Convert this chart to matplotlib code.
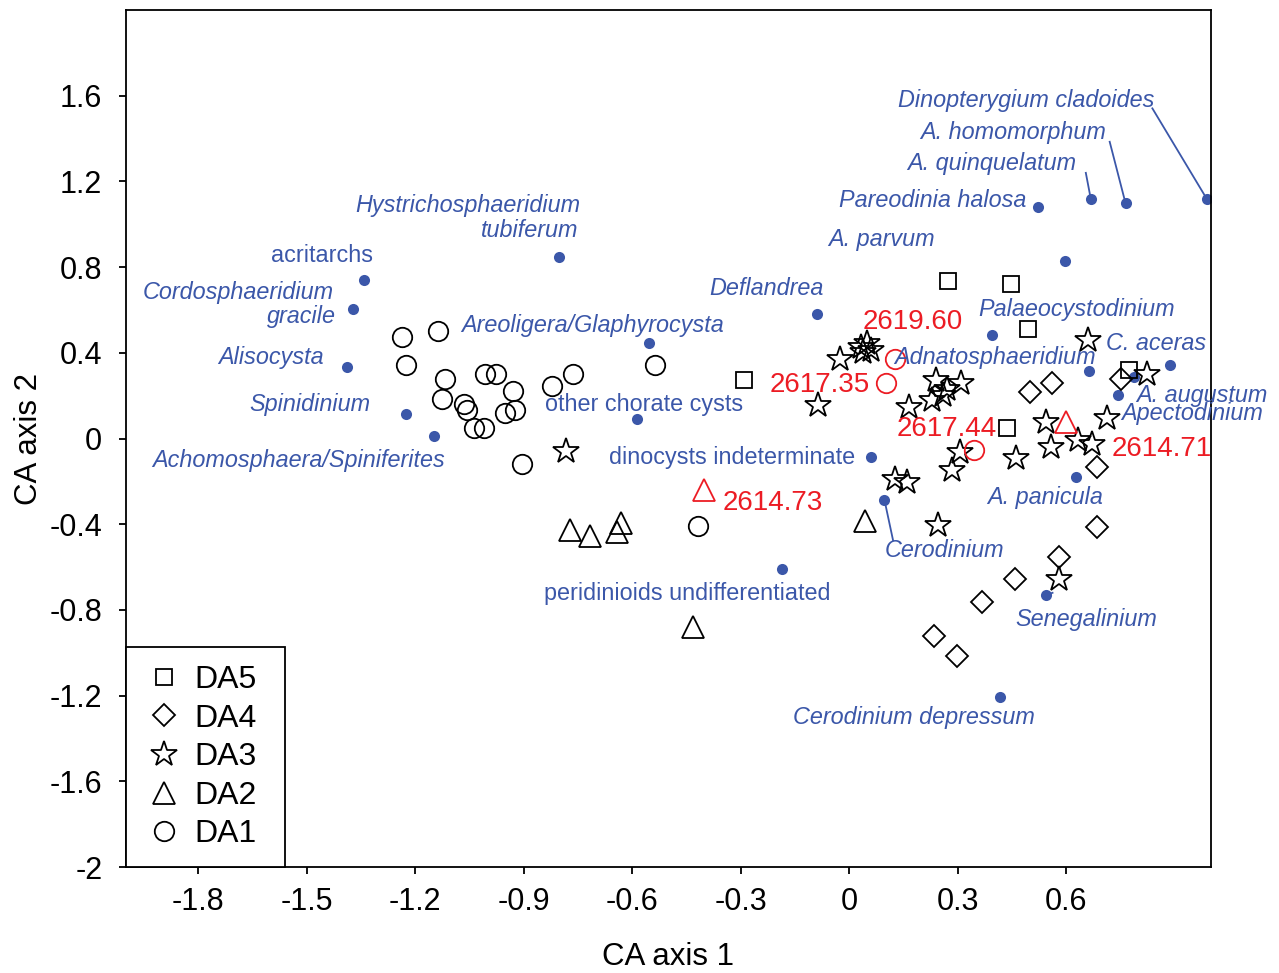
import matplotlib
matplotlib.use('Agg')
import matplotlib.pyplot as plt
from matplotlib.lines import Line2D

plt.rcParams['font.family'] = ['Liberation Sans', 'DejaVu Sans']
plt.rcParams['axes.unicode_minus'] = False

blue = '#3b57a9'
red = '#ec1c24'

# sample scores (CA axis 1, CA axis 2) by assemblage
da5_x = [0.273, 0.448, 0.494, 0.773, 0.437, -0.291]
da5_y = [0.734, 0.722, 0.513, 0.319, 0.047, 0.272]

da4_x = [0.499, 0.560, 0.751, 0.684, 0.686, 0.581, 0.457, 0.367, 0.234, 0.298]
da4_y = [0.218, 0.261, 0.280, -0.133, -0.415, -0.553, -0.654, -0.763, -0.923, -1.016]

da3_x = [-0.784, -0.025, 0.033, 0.050, 0.061, 0.039, -0.086, 0.166, 0.241, 0.310,
         0.269, 0.228, 0.260, 0.306, 0.285, 0.127, 0.159, 0.246, 0.579, 0.661,
         0.824, 0.544, 0.712, 0.558, 0.631, 0.671, 0.462]
da3_y = [-0.059, 0.369, 0.428, 0.446, 0.412, 0.403, 0.155, 0.148, 0.272, 0.257,
         0.229, 0.182, 0.202, -0.062, -0.148, -0.187, -0.203, -0.405, -0.654, 0.459,
         0.303, 0.077, 0.098, -0.039, -0.008, -0.027, -0.089]

da2_x = [-0.772, -0.717, -0.641, -0.630, -0.433, 0.044]
da2_y = [-0.428, -0.456, -0.436, -0.394, -0.880, -0.385]

da1_x = [-1.238, -1.137, -1.227, -1.118, -1.126, -1.066, -1.057, -1.038, -1.011, -1.007,
         -0.977, -0.930, -0.953, -0.924, -0.823, -0.765, -0.536, -0.906, -0.419]
da1_y = [0.474, 0.501, 0.342, 0.277, 0.183, 0.159, 0.132, 0.047, 0.049, 0.300,
         0.300, 0.222, 0.117, 0.132, 0.244, 0.303, 0.342, -0.121, -0.409]

# highlighted samples (depths)
hi_names = ['2619.60', '2617.35', '2617.44', '2614.71', '2614.73']
hi_marker = ['o', 'o', 'o', '^', '^']
hi_x = [0.125, 0.102, 0.345, 0.599, -0.401]
hi_y = [0.373, 0.257, -0.055, 0.077, -0.238]
hi_lab = [(0.176, 0.543), (-0.083, 0.249), (0.270, 0.043), (0.863, -0.050), (-0.211, -0.302)]

# taxa scores
taxa = ['acritarchs', 'Cordosphaeridium', 'Alisocysta', 'Spinidinium',
        'Achomosphaera/Spiniferites', 'Hystrichosphaeridium', 'Areoligera/Glaphyrocysta',
        'other chorate cysts', 'Deflandrea', 'dinocysts indeterminate',
        'peridinioids undifferentiated', 'Cerodinium', 'Pareodinia halosa',
        'A. quinquelatum', 'A. homomorphum', 'Dinopterygium cladoides', 'A. parvum',
        'Palaeocystodinium', 'Adnatosphaeridium', 'C. aceras', 'A. augustum',
        'Apectodinium', 'A. panicula', 'Senegalinium', 'Cerodinium depressum']
taxa_x = [-1.343, -1.371, -1.390, -1.225, -1.149, -0.804, -0.554, -0.587, -0.089, 0.060,
          -0.185, 0.097, 0.521, 0.668, 0.764, 0.989, 0.597, 0.394, 0.663, 0.888,
          0.787, 0.743, 0.627, 0.544, 0.418]
taxa_y = [0.739, 0.604, 0.333, 0.114, 0.011, 0.847, 0.444, 0.092, 0.579, -0.086,
          -0.607, -0.285, 1.081, 1.116, 1.097, 1.117, 0.829, 0.481, 0.316, 0.342,
          0.286, 0.202, -0.179, -0.732, -1.206]
upright = ['acritarchs', 'other chorate cysts', 'dinocysts indeterminate',
           'peridinioids undifferentiated']

# label placement (text centres)
taxa_lab = [(-1.457, 0.856), (-1.689, 0.683), (-1.598, 0.380), (-1.491, 0.160),
            (-1.522, -0.101), (-1.056, 1.089), (-0.710, 0.529), (-0.567, 0.160),
            (-0.230, 0.702), (-0.325, -0.087), (-0.449, -0.722), (0.264, -0.521),
            (0.230, 1.113), (0.395, 1.285), (0.453, 1.430), (0.489, 1.579),
            (0.089, 0.930), (0.628, 0.604), (0.402, 0.380), (0.848, 0.445),
            (0.974, 0.202), (0.948, 0.118), (0.542, -0.274), (0.656, -0.844),
            (0.179, -1.301)]
second_line = {'Cordosphaeridium': ('gracile', -1.514, 0.571),
               'Hystrichosphaeridium': ('tubiferum', -0.885, 0.972)}
leaders = {'Cerodinium': (0.121, -0.475), 'A. quinquelatum': (0.654, 1.240),
           'A. homomorphum': (0.720, 1.385), 'Dinopterygium cladoides': (0.838, 1.541),
           'Senegalinium': (0.562, -0.720)}

fig = plt.figure(figsize=(12.79, 9.73), dpi=100)
ax = fig.add_axes([0.0985, 0.1089, 0.8483, 0.8808])

mk = dict(ls='none', fillstyle='none', mew=1.3)
groups = [('DA5', 's', 12, da5_x, da5_y), ('DA4', 'D', 11.5, da4_x, da4_y),
          ('DA3', '*', 19, da3_x, da3_y), ('DA2', '^', 15.5, da2_x, da2_y),
          ('DA1', 'o', 14, da1_x, da1_y)]
handles = []
for name, m, s, xs, ys in groups:
    ax.plot(xs, ys, marker=m, ms=s, color='black', zorder=3, **mk)
    handles.append(Line2D([], [], marker=m, ms=s, color='black', **mk))

sizes = {'o': 14, '^': 15.5}
for n, m, x, y, (lx, ly) in zip(hi_names, hi_marker, hi_x, hi_y, hi_lab):
    ax.plot(x, y, marker=m, ms=sizes[m], color=red, zorder=4, **mk)
    ax.text(lx, ly, n, color=red, fontsize=20, ha='center', va='center', zorder=5)

ax.plot(taxa_x, taxa_y, 'o', ms=8, color=blue, mec='none', zorder=2)
for t, x, y, (lx, ly) in zip(taxa, taxa_x, taxa_y, taxa_lab):
    style = 'normal' if t in upright else 'italic'
    ax.text(lx, ly, t, color=blue, fontsize=16.8, style=style,
            ha='center', va='center', zorder=5)
    if t in second_line:
        s2, x2, y2 = second_line[t]
        ax.text(x2, y2, s2, color=blue, fontsize=16.8, style='italic',
                ha='center', va='center', zorder=5)
    if t in leaders:
        ex, ey = leaders[t]
        ax.plot([x, ex], [y, ey], color=blue, lw=1.3, zorder=2)

ax.set_xlim(-2.0, 1.0)
ax.set_ylim(-2.0, 2.0)
xt = [-1.8, -1.5, -1.2, -0.9, -0.6, -0.3, 0, 0.3, 0.6]
yt = [1.6, 1.2, 0.8, 0.4, 0, -0.4, -0.8, -1.2, -1.6, -2]
ax.set_xticks(xt)
ax.set_xticklabels([f'{v:g}' for v in xt])
ax.set_yticks(yt)
ax.set_yticklabels([f'{v:g}' for v in yt])
ax.tick_params(axis='both', direction='out', length=5, width=1.3, labelsize=22)
ax.tick_params(axis='x', pad=9.5)
ax.tick_params(axis='y', pad=12)
for sp in ax.spines.values():
    sp.set_linewidth(1.3)

ax.set_xlabel('CA axis 1', fontsize=22.5, labelpad=18)
ax.set_ylabel('CA axis 2', fontsize=22.5, labelpad=4)

leg = ax.legend(handles, [g[0] for g in groups], loc='lower left',
                bbox_to_anchor=(0, 0, 0.1465, 0.2), mode='expand', borderaxespad=0,
                fancybox=False, edgecolor='black', framealpha=1, fontsize=23,
                handlelength=1.3, handletextpad=0.3, borderpad=0.55, labelspacing=0.27)
leg.get_frame().set_linewidth(1.3)
leg.set_zorder(6)

fig.savefig('out.png', dpi=100)
